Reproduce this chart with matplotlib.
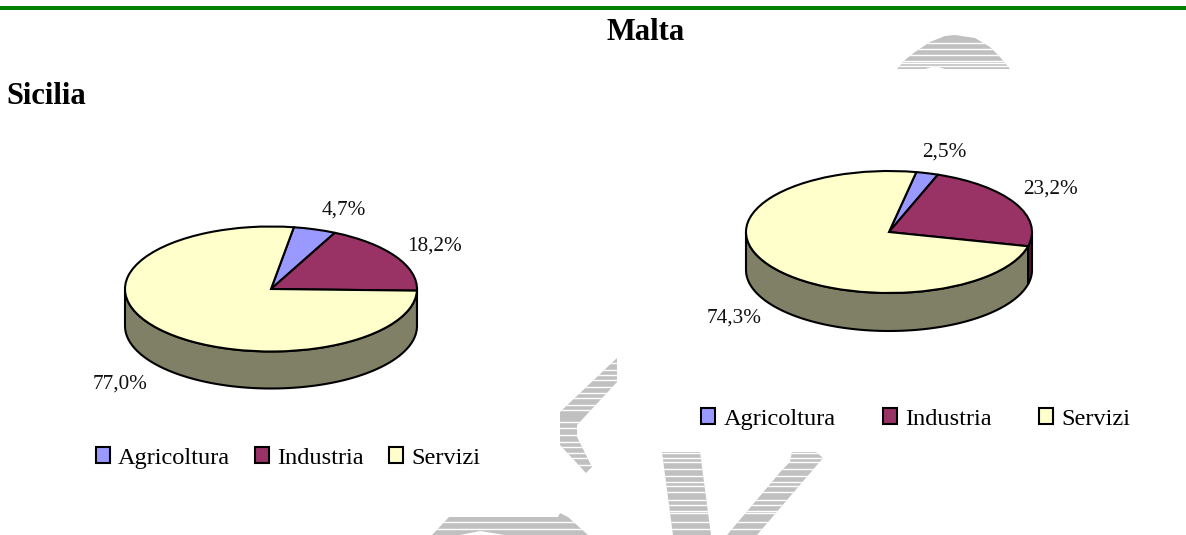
import numpy as np
import matplotlib
matplotlib.use("Agg")
import matplotlib.pyplot as plt
from matplotlib.patches import Polygon

labels = ["Agricoltura", "Industria", "Servizi"]
sicilia_values = [4.7, 18.2, 77.0]
malta_values = [2.5, 23.2, 74.3]
sicilia_text = ["4,7%", "18,2%", "77,0%"]
malta_text = ["2,5%", "23,2%", "74,3%"]

colors = ["#9999ff", "#993366", "#ffffcc"]
side_colors = ["#4d4d80", "#4d1a33", "#808066"]

W, H = 1186, 535
plt.rcParams["font.family"] = ["Liberation Serif", "DejaVu Serif"]

# watermark pieces: pixel outline and the y of the white stripes
wm_shapes = [
    ([(897, 69), (905, 60), (915, 52), (930, 42), (945, 36), (955, 35), (975, 38), (990, 47),
      (1000, 57), (1010, 69), (945, 69), (935, 66), (925, 69)],
     [43, 49, 55, 61, 63, 66]),
    ([(617, 358), (617, 382), (577, 425), (577, 437), (592, 467), (586, 473), (560, 445), (560, 412)],
     [363, 370, 375, 380, 387, 393, 398, 405, 410, 422, 428, 435, 442, 447, 453, 458, 465]),
    ([(662, 452), (700, 452), (711, 535), (673, 535)],
     [453, 458, 462, 469, 476, 482, 486, 492, 500, 505, 511, 513, 522, 529]),
    ([(792, 452), (816, 452), (823, 458), (757, 535), (727, 535), (782, 470), (790, 462)],
     [453, 458, 462, 469, 476, 482, 486, 492, 500, 505, 511, 513, 522, 529]),
    ([(432, 535), (449, 517), (558, 517), (560, 513), (568, 517), (588, 535), (505, 535), (480, 531), (460, 535)],
     [522, 529]),
]


def px_axes(fig, cx, cy, rx, ry, depth):
    # axes where x -1..1 is rx pixels each side and y -1..1 is ry pixels
    d = depth / ry
    ax = fig.add_axes([(cx - rx) / W, (H - cy - ry - depth) / H, 2 * rx / W, (2 * ry + depth) / H])
    return ax, d


def draw_pie(fig, cx, cy, rx, ry, depth, start, values, texts, text_pos, legend_pos, col_space):
    ax, d = px_axes(fig, cx, cy, rx, ry, depth)
    angles = start + np.cumsum([0] + list(values)) * 3.6

    # side wall, only the front half shows
    for i in range(len(values)):
        a0 = max(angles[i], 90)
        a1 = min(angles[i + 1], 270)
        if a1 <= a0:
            continue
        t = np.radians(np.linspace(a0, a1, 80))
        x = np.sin(t)
        y = np.cos(t)
        pts = np.r_[np.c_[x, y], np.c_[x, y - d][::-1]]
        ax.add_patch(Polygon(pts, closed=True, fc=side_colors[i], ec="black", lw=1.5, clip_on=False))

    wedges, _ = ax.pie(values, colors=colors, startangle=90 - start, counterclock=False,
                       wedgeprops=dict(edgecolor="black", linewidth=1.5, clip_on=False))
    ax.set_aspect("auto")
    ax.set_xlim(-1, 1)
    ax.set_ylim(-1 - d, 1)
    ax.axis("off")

    for s, (tx, ty) in zip(texts, text_pos):
        fig.text(tx / W, 1 - ty / H, s, fontsize=15.3, ha="center", va="center", color="#111111")

    ax.legend(wedges, labels, ncol=3, frameon=False, fontsize=17.6,
              loc="center", bbox_to_anchor=(legend_pos[0] / W, 1 - legend_pos[1] / H),
              bbox_transform=fig.transFigure, handlelength=0.58, handleheight=0.58,
              handletextpad=0.33, columnspacing=col_space, borderpad=0, borderaxespad=0)


def main():
    fig = plt.figure(figsize=(W / 100, H / 100), dpi=100, facecolor="white")

    bg = fig.add_axes([0, 0, 1, 1], zorder=-1)
    bg.set_xlim(0, W)
    bg.set_ylim(H, 0)
    bg.axis("off")

    bg.fill_between([0, W], 6, 10, color="#008000", lw=0)

    for shape, gaps in wm_shapes:
        poly = Polygon(shape, closed=True, fc="#c0c0c0", ec="none")
        bg.add_patch(poly)
        lines = bg.hlines(gaps, 380, 1040, color="white", lw=1)
        lines.set_clip_path(poly)

    bg.text(646, 33, "Malta", fontsize=22, fontweight="bold", ha="center", va="center")
    bg.text(6, 97, "Sicilia", fontsize=22, fontweight="bold", ha="left", va="center")

    draw_pie(fig, 271, 289, 146, 62.5, 37, 9, sicilia_values, sicilia_text,
             [(344, 210.5), (434, 246.5), (120.5, 384)], (288, 458), 1.03)
    draw_pie(fig, 889, 232, 143, 61, 38, 11, malta_values, malta_text,
             [(944, 152.5), (1051, 189.5), (734.5, 318)], (915.5, 419), 1.93)

    fig.savefig("out.png", dpi=100)


if __name__ == "__main__":
    main()
